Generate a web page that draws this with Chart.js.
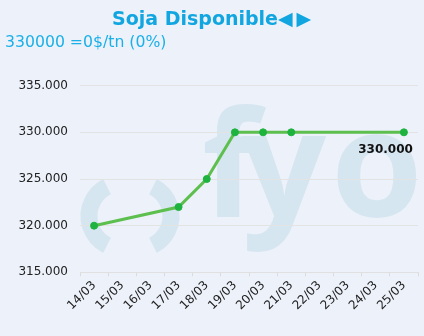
<!DOCTYPE html>
<html>
<head>
<meta charset="utf-8">
<script src="https://cdn.jsdelivr.net/npm/chart.js@4.4.0/dist/chart.umd.min.js"></script>
<style>
html,body{margin:0;padding:0;background:#edf1fa;}
#wrap{width:424px;height:336px;position:relative;}
</style>
</head>
<body>
<div id="wrap"><canvas id="c" width="424" height="336"></canvas></div>
<script>
const categories = ['14/03','15/03','16/03','17/03','18/03','19/03','20/03','21/03','22/03','23/03','24/03','25/03'];
const prices = [320000, null, null, 322000, 325000, 330000, 330000, 330000, null, null, null, 330000];
const yTicks = [315000, 320000, 325000, 330000, 335000];
const titleText = 'Soja Disponible\u25C0\u2009\u25B6';
const subtitleText = '330000 =0$/tn (0%)';
const lastLabel = '330.000';

const FONT = "'DejaVu Sans', Verdana, sans-serif";
const fmt = v => v.toLocaleString('de-DE');

const bgPlugin = {
  id: 'bg',
  beforeDraw(chart) {
    const ctx = chart.ctx;
    ctx.save();
    ctx.fillStyle = '#edf1fa';
    ctx.fillRect(0, 0, chart.width, chart.height);
    // watermark logo
    ctx.fillStyle = '#d6e6f0';
    ctx.strokeStyle = '#d6e6f0';
    ctx.font = "bold 148px 'Open Sans', sans-serif";
    ctx.textBaseline = 'alphabetic';
    ctx.textAlign = 'left';
    ctx.fillText('f', 202, 217);
    ctx.fillText('y', 242, 217);
    ctx.fillText('o', 331, 217);
    ctx.lineWidth = 17;
    ctx.lineCap = 'butt';
    ctx.beginPath();
    ctx.arc(122, 216, 33, Math.PI - 1.1, Math.PI + 1.1);
    ctx.stroke();
    ctx.beginPath();
    ctx.arc(138, 216, 33, -1.1, 1.1);
    ctx.stroke();
    ctx.restore();
  }
};

const labelPlugin = {
  id: 'lastlabel',
  afterDatasetsDraw(chart) {
    const meta = chart.getDatasetMeta(0);
    const pt = meta.data[meta.data.length - 1];
    const ctx = chart.ctx;
    ctx.save();
    ctx.font = "bold 12px " + FONT;
    ctx.fillStyle = '#111';
    ctx.textAlign = 'right';
    ctx.textBaseline = 'middle';
    ctx.fillText(lastLabel, pt.x + 9, pt.y + 18);
    ctx.restore();
  }
};

new Chart(document.getElementById('c'), {
  type: 'line',
  data: {
    labels: categories,
    datasets: [{
      data: prices,
      borderColor: '#5cbf4e',
      borderWidth: 3,
      pointBackgroundColor: '#1db33e',
      pointBorderColor: '#1db33e',
      pointRadius: 3.5,
      pointBorderWidth: 1,
      tension: 0,
      spanGaps: true,
      fill: false
    }]
  },
  options: {
    responsive: false,
    animation: false,
    layout: { padding: { left: 5, right: 6, top: 0, bottom: 21 } },
    plugins: {
      legend: { display: false },
      tooltip: { enabled: false },
      title: {
        display: true,
        text: titleText,
        color: '#12a6e0',
        font: { family: FONT, size: 19, weight: 'bold' },
        padding: { top: 9, bottom: 1 }
      },
      subtitle: {
        display: true,
        text: subtitleText,
        align: 'start',
        color: '#1ab0e8',
        font: { family: FONT, size: 15.7, weight: 'normal' },
        padding: { top: 1, bottom: 33 }
      }
    },
    scales: {
      x: {
        offset: true,
        grid: { display: true, drawOnChartArea: false, drawTicks: true, tickLength: 4, color: '#dcdcdc', offset: true },
        border: { display: true, color: '#e0e0e0' },
        ticks: {
          color: '#222',
          font: { family: FONT, size: 12 },
          maxRotation: 45,
          minRotation: 45,
          autoSkip: false,
          padding: 2
        }
      },
      y: {
        min: yTicks[0],
        max: yTicks[yTicks.length - 1],
        afterBuildTicks: s => { s.ticks = yTicks.map(v => ({ value: v })); },
        afterFit: s => { s.width = 75; },
        grid: { color: '#e3e3e3', drawTicks: false },
        border: { display: false },
        ticks: {
          color: '#222',
          font: { family: FONT, size: 12 },
          padding: 12,
          callback: v => fmt(v)
        }
      }
    }
  },
  plugins: [bgPlugin, labelPlugin]
});
</script>
</body>
</html>
